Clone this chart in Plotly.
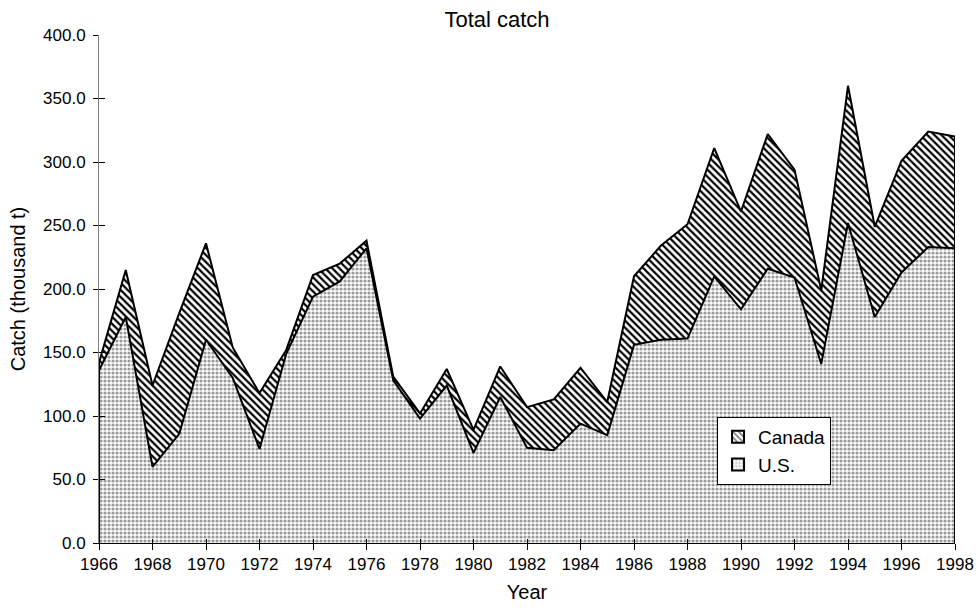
import plotly.graph_objects as go

years = list(range(1966, 1999))
us = [136, 178, 60, 86, 160, 130, 74, 149, 194, 206, 232,
      128, 98, 124, 71, 115, 75, 73, 94, 85, 156, 160, 161,
      210, 184, 216, 209, 141, 252, 178, 213, 233, 232]
total = [142, 215, 124, 181, 236, 154, 118, 152, 211, 220, 238,
         131, 102, 137, 89, 139, 107, 113, 138, 111, 210, 234, 251,
         311, 261, 322, 294, 199, 360, 249, 301, 324, 320]
canada = [t - u for t, u in zip(total, us)]
tick_years = list(range(1966, 1999, 2))
y_ticks = list(range(0, 401, 50))

FONT = "Liberation Sans, Arial, sans-serif"
US_PAT = dict(shape=".", fgcolor="#999999", bgcolor="white", size=4, solidity=0.5, fillmode="replace")
CA_PAT = dict(shape="\\", fgcolor="black", bgcolor="white", size=5, solidity=0.45, fillmode="replace")

fig = go.Figure()
fig.add_trace(go.Scatter(
    x=years, y=us, name="U.S.", stackgroup="one", mode="lines",
    line=dict(color="black", width=2), fillcolor="white", fillpattern=US_PAT,
    showlegend=False,
))
fig.add_trace(go.Scatter(
    x=years, y=canada, name="Canada", stackgroup="one", mode="lines",
    line=dict(color="black", width=2), fillcolor="white", fillpattern=CA_PAT,
    showlegend=False,
))
# left and right borders of the area
for i in (0, -1):
    fig.add_trace(go.Scatter(
        x=[years[i], years[i]], y=[0, total[i]], mode="lines",
        line=dict(color="black", width=2), showlegend=False, hoverinfo="skip"))

# legend entries (square pattern swatches)
for name, pat in (("Canada", CA_PAT), ("U.S.", US_PAT)):
    fig.add_trace(go.Bar(
        x=[None], y=[None], name=name, xaxis="x2", yaxis="y2",
        marker=dict(color="white", line=dict(color="black", width=2),
                    pattern=dict(shape=pat["shape"], fgcolor=pat["fgcolor"], bgcolor="white",
                                 size=pat["size"], solidity=pat["solidity"])),
        showlegend=True, hoverinfo="skip"))

fig.update_layout(
    width=979, height=615,
    margin=dict(l=99, r=24, t=35, b=72),
    paper_bgcolor="white", plot_bgcolor="white",
    font=dict(family=FONT, size=17, color="black"),
    title=dict(text="Total catch", x=0.5077, xref="container", y=0.969, yref="container",
               yanchor="middle", xanchor="center",
               font=dict(family=FONT, size=22, color="black")),
    showlegend=True,
    legend=dict(x=0.722, y=0.248, xanchor="left", yanchor="top",
                bgcolor="white", bordercolor="black", borderwidth=1,
                traceorder="normal", itemwidth=30,
                font=dict(family=FONT, size=19)),
    xaxis=dict(range=[1966, 1998], tickvals=tick_years, ticktext=[str(y) for y in tick_years],
               showgrid=False, zeroline=False, showline=True, linecolor="black", linewidth=1,
               ticks="outside", ticklen=6, tickcolor="black", automargin=False,
               ticklabeloverflow="allow",
               title=dict(text="Year", standoff=11)),
    yaxis=dict(range=[0, 400], tickvals=y_ticks, tickformat=".1f",
               showgrid=False, zeroline=False, showline=True, linecolor="#808080", linewidth=1,
               ticks="outside", ticklen=5, tickcolor="black", automargin=False,
               ticklabelstandoff=4,
               title=dict(text="Catch (thousand t)", standoff=12)),
    xaxis2=dict(range=[1966, 1998], tickvals=tick_years, overlaying="x", anchor="y",
                showticklabels=False, showgrid=False, zeroline=False, showline=False,
                ticks="inside", ticklen=4, tickcolor="black"),
    yaxis2=dict(range=[0, 400], tickvals=y_ticks, overlaying="y", anchor="x", side="left",
                showticklabels=False, showgrid=False, zeroline=False, showline=False,
                ticks="inside", ticklen=6, tickcolor="black"),
)
fig.write_html("out.html", config={"displayModeBar": False},
               post_script="document.body.style.margin='0';document.body.style.overflow='hidden';")
